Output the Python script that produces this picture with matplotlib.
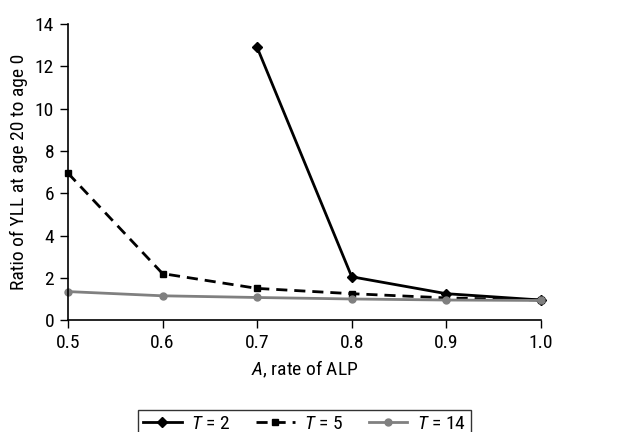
import matplotlib
matplotlib.use('Agg')
import matplotlib.pyplot as plt
from matplotlib import font_manager

names = {f.name for f in font_manager.fontManager.ttflist}
fam = 'Roboto'
for cand in ['Roboto Condensed', 'Liberation Sans Narrow', 'Open Sans Condensed', 'Roboto']:
    if cand in names:
        fam = cand
        break

plt.rcParams['font.family'] = [fam, 'DejaVu Sans']
plt.rcParams['mathtext.fontset'] = 'custom'
plt.rcParams['mathtext.rm'] = fam
plt.rcParams['mathtext.it'] = fam + ':italic'

alp = [0.5, 0.6, 0.7, 0.8, 0.9, 1.0]
alp_t2 = [0.7, 0.8, 0.9, 1.0]
t2 = [12.9, 2.05, 1.25, 0.95]
t5 = [6.95, 2.2, 1.5, 1.25, 1.05, 0.95]
t14 = [1.35, 1.15, 1.07, 1.0, 0.95, 0.93]

fig = plt.figure(figsize=(6.21, 4.32), dpi=100)
ax = fig.add_axes([0.1095, 0.259, 0.7615, 0.685])

ax.plot(alp_t2, t2, color='black', lw=2, marker='D', ms=5.5, label=r'$T$ = 2')
ax.plot(alp, t5, color='black', lw=2, ls=(0, (4, 2.5)), marker='s', ms=5, label=r'$T$ = 5')
ax.plot(alp, t14, color='#808080', lw=2, marker='o', ms=5, label=r'$T$ = 14')

ax.set_xlim(0.5, 1.0)
ax.set_ylim(0, 14)
ax.set_xticks(alp)
ax.set_xticklabels(['0.5', '0.6', '0.7', '0.8', '0.9', '1.0'])
ax.set_yticks(range(0, 15, 2))
ax.tick_params(labelsize=14, direction='out', length=6, width=1, pad=4)
ax.spines['top'].set_visible(False)
ax.spines['right'].set_visible(False)
for s in ['left', 'bottom']:
    ax.spines[s].set_linewidth(1.2)
for ln in ax.lines:
    ln.set_clip_on(False)

ax.set_xlabel(r'$A$, rate of ALP', fontsize=14, labelpad=5)
ax.set_ylabel('Ratio of YLL at age 20 to age 0', fontsize=14, labelpad=5)

leg = ax.legend(loc='upper center', bbox_to_anchor=(0.5, -0.27), ncol=3, fontsize=14,
                frameon=True, fancybox=False, edgecolor='black', handlelength=2.0,
                handletextpad=0.5, columnspacing=1.3, borderpad=0.25)
leg.get_frame().set_linewidth(1.0)

fig.savefig('out.png', dpi=100)
